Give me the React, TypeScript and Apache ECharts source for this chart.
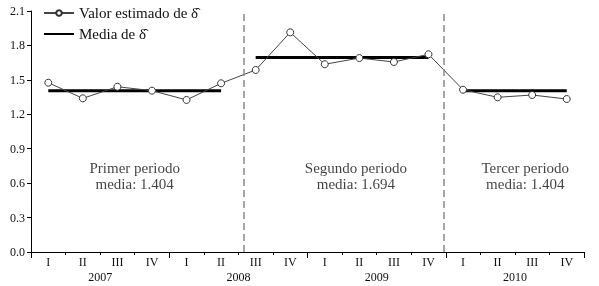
import React, { useEffect, useRef } from "react";
import * as echarts from "echarts";

const quarterLabels = ["I", "II", "III", "IV", "I", "II", "III", "IV", "I", "II", "III", "IV", "I", "II", "III", "IV"];
const years = ["2007", "2008", "2009", "2010"];
const estimates = [1.475, 1.339, 1.44, 1.406, 1.325, 1.47, 1.586, 1.914, 1.636, 1.69, 1.656, 1.723, 1.414, 1.348, 1.368, 1.333];
const periodStart = [0, 6, 12];
const periodEnd = [5, 11, 15];
const periodMeans = [1.404, 1.694, 1.404];
const separators = [5.65, 11.45];
const periodTexts = ["Primer periodo\nmedia: 1.404", "Segundo periodo\nmedia: 1.694", "Tercer periodo\nmedia: 1.404"];
const periodTextX = [2.5, 8.9, 13.8];
const periodTextY = [0.66, 0.66, 0.66];
const yTicks = { min: 0, max: 2.1, interval: 0.3 };

const FONT = '"Liberation Serif", "DejaVu Serif", serif';
const NAME_EST = "Valor estimado de \u03B4\u0302";
const NAME_MEAN = "Media de \u03B4\u0302";

export default function App() {
  const ref = useRef<HTMLDivElement>(null);
  useEffect(() => {
    if (!ref.current) return;
    const chart = echarts.init(ref.current, null, { renderer: "svg" });
    const meanData: any[] = [];
    periodMeans.forEach((m, i) => {
      if (i > 0) meanData.push([periodStart[i] - 0.5, "-"]);
      meanData.push([periodStart[i], m]);
      meanData.push([periodEnd[i], m]);
    });
    const quarterIds = quarterLabels.map((q, i) => `${years[Math.floor(i / 4)]}-${q}`);
    chart.setOption({
      animation: false,
      textStyle: { fontFamily: FONT },
      grid: { left: 31, right: 15, top: 11, bottom: 34, containLabel: false },
      legend: {
        orient: "vertical",
        left: 38,
        top: 0,
        itemWidth: 30,
        itemHeight: 7,
        itemGap: 5,
        data: [
          { name: NAME_EST },
          { name: NAME_MEAN, itemStyle: { opacity: 0 } },
        ],
        textStyle: { fontSize: 15, fontFamily: FONT, color: "#111", lineHeight: 16 },
      },
      xAxis: [
        { type: "value", min: -0.5, max: 15.5, show: false },
        {
          type: "category",
          position: "bottom",
          data: quarterIds,
          boundaryGap: true,
          axisLine: { show: true, lineStyle: { color: "#000", width: 1 } },
          axisTick: { show: true, length: 3, lineStyle: { color: "#000" } },
          axisLabel: {
            margin: 4,
            fontSize: 12,
            fontFamily: FONT,
            color: "#111",
            formatter: (v: string) => v.split("-")[1],
          },
        },
        {
          type: "category",
          position: "bottom",
          data: years,
          boundaryGap: true,
          axisLine: { show: false },
          axisTick: { show: true, length: 6, lineStyle: { color: "#000" } },
          axisLabel: { margin: 19, fontSize: 12, fontFamily: FONT, color: "#111" },
        },
      ],
      yAxis: {
        type: "value",
        min: yTicks.min,
        max: yTicks.max,
        interval: yTicks.interval,
        splitLine: { show: false },
        axisLine: { show: true, onZero: false, lineStyle: { color: "#000", width: 1 } },
        axisTick: { show: true, length: 4, lineStyle: { color: "#000" } },
        axisLabel: { fontSize: 12, fontFamily: FONT, color: "#111", margin: 6, formatter: (v: number) => v.toFixed(1) },
      },
      series: [
        {
          name: NAME_MEAN,
          type: "line",
          xAxisIndex: 0,
          data: meanData,
          symbol: "none",
          connectNulls: false,
          lineStyle: { color: "#000", width: 3 },
          itemStyle: { color: "#000" },
          z: 2,
          markLine: {
            silent: true,
            symbol: "none",
            label: { show: false },
            lineStyle: { color: "#8a8a8a", width: 1.5, type: [7, 4] },
            data: separators.map((s) => ({ xAxis: s })),
          },
        },
        {
          name: NAME_EST,
          type: "line",
          xAxisIndex: 0,
          data: estimates.map((v, i) => [i, v]),
          symbol: "circle",
          symbolSize: 7,
          lineStyle: { color: "#444", width: 1 },
          itemStyle: { color: "#fff", borderColor: "#333", borderWidth: 1 },
          z: 3,
        },
        {
          name: "periods",
          type: "scatter",
          xAxisIndex: 0,
          symbolSize: 0,
          data: periodTexts.map((t, i) => ({ name: t, value: [periodTextX[i], periodTextY[i]] })),
          label: {
            show: true,
            position: "inside",
            formatter: "{b}",
            fontSize: 15,
            lineHeight: 16,
            fontFamily: FONT,
            color: "#111",
            align: "center",
          },
        },
      ],
    });
    return () => chart.dispose();
  }, []);
  return <div ref={ref} style={{ position: "fixed", left: 0, top: 0, width: 599, height: 286 }} />;
}
